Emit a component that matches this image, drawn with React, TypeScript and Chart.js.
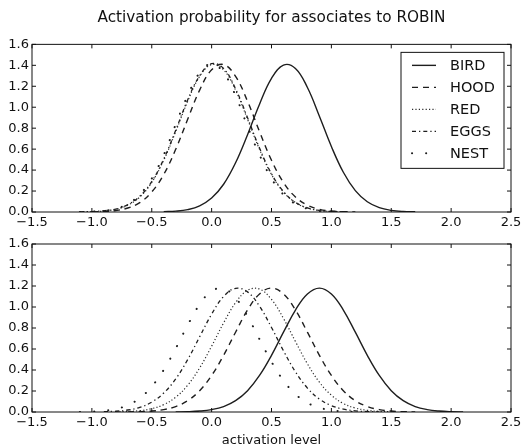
import React, { useEffect, useRef } from 'react';
import { Chart, registerables } from 'chart.js';

Chart.register(...registerables);

// ---------- data ----------
const TITLE = 'Activation probability for associates to ROBIN';
const X_LABEL = 'activation level';
const SERIES = ['BIRD', 'HOOD', 'RED', 'EGGS', 'NEST'];
const X_TICKS = [-1.5, -1.0, -0.5, 0.0, 0.5, 1.0, 1.5, 2.0, 2.5];
const Y_TICKS = [0.0, 0.2, 0.4, 0.6, 0.8, 1.0, 1.2, 1.4, 1.6];

const XS = [-1.2, -1.1, -1.0, -0.9, -0.8, -0.7, -0.6, -0.5, -0.4, -0.3, -0.2, -0.1, 0.0, 0.1, 0.2, 0.3, 0.4, 0.5,
  0.6, 0.7, 0.8, 0.9, 1.0, 1.1, 1.2, 1.3, 1.4, 1.5, 1.6, 1.7, 1.8, 1.9, 2.0, 2.1, 2.2];

// upper panel
const TOP_BIRD = [null, null, null, null, null, null, null, null,
  0.003, 0.008, 0.023, 0.059, 0.133, 0.265, 0.470, 0.738, 1.029, 1.275, 1.402, 1.370, 1.188, 0.914, 0.625, 0.379,
  0.204, 0.098, 0.042, 0.016, 0.005, 0.002,
  null, null, null, null, null];
const TOP_HOOD = [null, null,
  0.001, 0.005, 0.014, 0.038, 0.090, 0.191, 0.358, 0.598, 0.885, 1.163, 1.357, 1.407, 1.294, 1.057, 0.767, 0.494,
  0.282, 0.143, 0.065, 0.026, 0.009, 0.003, 0.001,
  null, null, null, null, null, null, null, null, null, null];
const TOP_RED = [null,
  0.001, 0.003, 0.009, 0.026, 0.065, 0.143, 0.282, 0.494, 0.767, 1.057, 1.294, 1.407, 1.357, 1.163, 0.885, 0.598,
  0.358, 0.191, 0.090, 0.038, 0.014, 0.005, 0.001,
  null, null, null, null, null, null, null, null, null, null, null];
const TOP_EGGS = [null,
  0.002, 0.004, 0.012, 0.028, 0.070, 0.150, 0.290, 0.505, 0.780, 1.070, 1.300, 1.415, 1.370, 1.175, 0.900, 0.610,
  0.365, 0.195, 0.092, 0.040, 0.015, 0.005, 0.002,
  null, null, null, null, null, null, null, null, null, null, null];
const TOP_NEST = [null,
  0.001, 0.004, 0.011, 0.031, 0.077, 0.166, 0.319, 0.545, 0.836, 1.111, 1.329, 1.415, 1.329, 1.111, 0.816, 0.545,
  0.319, 0.166, 0.077, 0.031, 0.011, 0.004, 0.001,
  null, null, null, null, null, null, null, null, null, null, null];

// lower panel
const BOT_BIRD = [null, null, null, null, null, null, null, null, null,
  0.001, 0.003, 0.009, 0.023, 0.052, 0.108, 0.203, 0.348, 0.540, 0.760, 0.971, 1.124, 1.180, 1.124, 0.971, 0.760,
  0.540, 0.348, 0.203, 0.108, 0.052, 0.023, 0.009, 0.003, 0.001,
  null];
const BOT_HOOD = [null, null, null, null, null,
  0.001, 0.003, 0.009, 0.023, 0.052, 0.108, 0.203, 0.348, 0.540, 0.760, 0.971, 1.124, 1.180, 1.124, 0.971, 0.760,
  0.540, 0.348, 0.203, 0.108, 0.052, 0.023, 0.009, 0.003, 0.001,
  null, null, null, null, null];
const BOT_RED = [null, null, null, null,
  0.002, 0.005, 0.013, 0.032, 0.070, 0.141, 0.255, 0.420, 0.627, 0.848, 1.041, 1.159, 1.171, 1.072, 0.891, 0.671,
  0.459, 0.284, 0.160, 0.081, 0.038, 0.016, 0.006, 0.002,
  null, null, null, null, null, null, null];
const BOT_EGGS = [null, null, null,
  0.003, 0.007, 0.019, 0.044, 0.094, 0.181, 0.315, 0.499, 0.716, 0.932, 1.100, 1.178, 1.144, 1.007, 0.805, 0.583,
  0.383, 0.228, 0.123, 0.061, 0.027, 0.011, 0.004, 0.001,
  null, null, null, null, null, null, null, null];
const BOT_NEST = [null,
  0.001, 0.004, 0.012, 0.029, 0.065, 0.132, 0.242, 0.401, 0.605, 0.827, 1.025, 1.152, 1.175, 1.087, 0.911, 0.693,
  0.478, 0.299, 0.170, 0.087, 0.041, 0.017, 0.007, 0.002,
  null, null, null, null, null, null, null, null, null, null];

const TOP_VALUES = [TOP_BIRD, TOP_HOOD, TOP_RED, TOP_EGGS, TOP_NEST];
const BOT_VALUES = [BOT_BIRD, BOT_HOOD, BOT_RED, BOT_EGGS, BOT_NEST];

// ---------- styles ----------
const FONT = "'DejaVu Sans', sans-serif";
const INK = '#111111';
const LINE_STYLES = [
  { color: '#1e1e1e', width: 1.4, dash: [] as number[], cap: 'butt' },
  { color: '#1e1e1e', width: 1.4, dash: [6, 5], cap: 'butt' },
  { color: '#2a2a2a', width: 1.2, dash: [1.2, 2.2], cap: 'butt' },
  { color: '#1e1e1e', width: 1.3, dash: [4, 3, 1.3, 3], cap: 'butt' },
  { color: '#1e1e1e', width: 2.0, dash: [0.1, 14], cap: 'round' },
];

const fmt = (v: number) => (v < 0 ? '\u2212' : '') + Math.abs(v).toFixed(1);

const framePlugin = {
  id: 'frameTicks',
  afterDatasetsDraw(chart: any) {
    const { ctx, chartArea: a, scales } = chart;
    ctx.save();
    ctx.strokeStyle = INK;
    ctx.lineWidth = 1;
    ctx.setLineDash([]);
    ctx.strokeRect(a.left, a.top, a.right - a.left, a.bottom - a.top);
    ctx.beginPath();
    for (const v of X_TICKS) {
      const px = scales.x.getPixelForValue(v);
      ctx.moveTo(px, a.bottom);
      ctx.lineTo(px, a.bottom - 4);
      ctx.moveTo(px, a.top);
      ctx.lineTo(px, a.top + 4);
    }
    for (const v of Y_TICKS) {
      const py = scales.y.getPixelForValue(v);
      ctx.moveTo(a.left, py);
      ctx.lineTo(a.left + 4, py);
      ctx.moveTo(a.right, py);
      ctx.lineTo(a.right - 4, py);
    }
    ctx.stroke();
    ctx.restore();
  },
};

const boxLegendPlugin = {
  id: 'boxLegend',
  afterDraw(chart: any, _args: any, opts: any) {
    if (!opts || !opts.display) return;
    const { ctx, chartArea: a } = chart;
    const left = a.right - 110;
    const top = a.top + 8;
    const w = 103;
    const h = 116;
    ctx.save();
    ctx.fillStyle = '#ffffff';
    ctx.fillRect(left, top, w, h);
    ctx.strokeStyle = INK;
    ctx.lineWidth = 1;
    ctx.setLineDash([]);
    ctx.strokeRect(left, top, w, h);
    chart.data.datasets.forEach((ds: any, i: number) => {
      const y = top + 13 + i * 22;
      ctx.beginPath();
      ctx.strokeStyle = ds.borderColor;
      ctx.lineWidth = ds.borderWidth;
      ctx.lineCap = ds.borderCapStyle;
      ctx.setLineDash(ds.borderDash);
      ctx.moveTo(left + 11, y);
      ctx.lineTo(left + 35, y);
      ctx.stroke();
      ctx.setLineDash([]);
      ctx.fillStyle = INK;
      ctx.font = `14.5px ${FONT}`;
      ctx.textAlign = 'left';
      ctx.textBaseline = 'middle';
      ctx.fillText(ds.label, left + 49, y + 1);
    });
    ctx.restore();
  },
};

function buildConfig(values: (number | null)[][], panel: 'top' | 'bottom') {
  const isTop = panel === 'top';
  return {
    type: 'line' as const,
    data: {
      datasets: SERIES.map((name, i) => ({
        label: name,
        data: XS.map((x, j) => ({ x, y: values[i][j] })),
        borderColor: LINE_STYLES[i].color,
        borderWidth: LINE_STYLES[i].width,
        borderDash: LINE_STYLES[i].dash,
        borderCapStyle: LINE_STYLES[i].cap,
        pointRadius: 0,
        fill: false,
        tension: 0.4,
        spanGaps: false,
      })),
    },
    options: {
      responsive: false,
      animation: false,
      devicePixelRatio: 1,
      layout: { padding: { left: 0, right: 10, top: isTop ? 0 : 12, bottom: 0 } },
      plugins: {
        legend: { display: false },
        tooltip: { enabled: false },
        title: {
          display: isTop,
          text: TITLE,
          fullSize: false,
          color: INK,
          font: { family: FONT, size: 15.3, weight: 'normal' },
          padding: { top: 9, bottom: 17 },
        },
        boxLegend: { display: isTop },
      },
      scales: {
        x: {
          type: 'linear',
          min: -1.5,
          max: 2.5,
          afterBuildTicks: (s: any) => { s.ticks = X_TICKS.map((v) => ({ value: v })); },
          afterFit: (s: any) => { s.height = isTop ? 20 : 35; s.paddingLeft = 0; s.paddingRight = 0; },
          grid: { display: false, drawTicks: false },
          border: { display: false },
          ticks: {
            color: INK,
            font: { family: FONT, size: 13 },
            padding: 3,
            maxRotation: 0,
            autoSkip: false,
            callback: (v: number) => fmt(v),
          },
          title: {
            display: !isTop,
            text: X_LABEL,
            color: INK,
            font: { family: FONT, size: 13, lineHeight: 1 },
            padding: { top: 0, bottom: 0 },
          },
        },
        y: {
          type: 'linear',
          min: 0,
          max: 1.6,
          afterBuildTicks: (s: any) => { s.ticks = Y_TICKS.map((v) => ({ value: v })); },
          afterFit: (s: any) => { s.width = 32; s.paddingTop = 0; s.paddingBottom = 0; },
          grid: { display: false, drawTicks: false },
          border: { display: false },
          ticks: {
            color: INK,
            font: { family: FONT, size: 13 },
            padding: 3,
            autoSkip: false,
            callback: (v: number) => fmt(v),
          },
        },
      },
    },
    plugins: [framePlugin, boxLegendPlugin],
  };
}

function Panel({ values, panel, top, height }: { values: (number | null)[][]; panel: 'top' | 'bottom'; top: number; height: number }) {
  const ref = useRef<HTMLCanvasElement>(null);
  useEffect(() => {
    const chart = new Chart(ref.current as HTMLCanvasElement, buildConfig(values, panel) as any);
    return () => chart.destroy();
  }, [values, panel]);
  return (
    <div style={{ position: 'absolute', left: 0, top, width: 521, height }}>
      <canvas ref={ref} width={521} height={height} style={{ display: 'block' }} />
    </div>
  );
}

export default function App() {
  return (
    <div style={{ position: 'absolute', left: 0, top: 0, width: 521, height: 447, background: '#ffffff', overflow: 'hidden' }}>
      <Panel values={TOP_VALUES} panel="top" top={0} height={232} />
      <Panel values={BOT_VALUES} panel="bottom" top={232} height={215} />
    </div>
  );
}
